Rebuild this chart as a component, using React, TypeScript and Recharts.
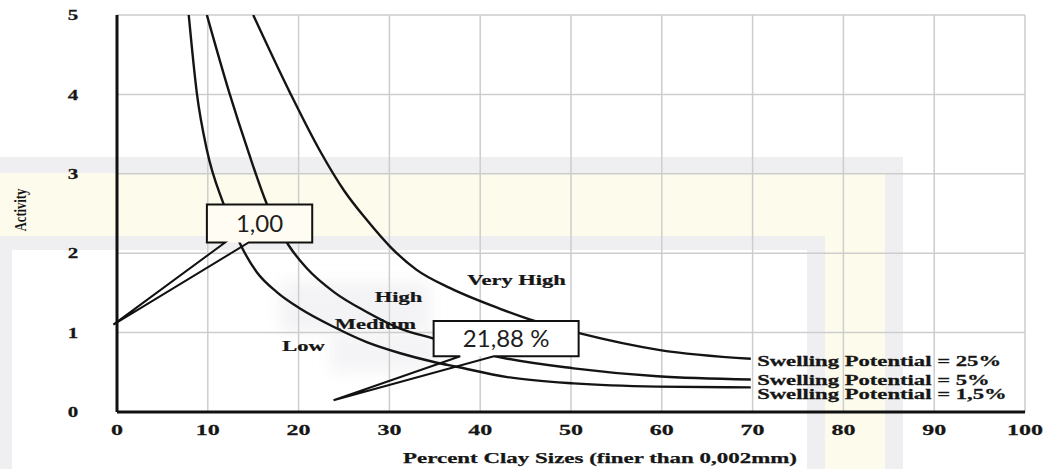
// Activity chart: percent clay fraction vs activity, with the three
// swelling-potential boundary curves and two value callouts.

import { CartesianGrid, ComposedChart, Line, ReferenceArea, ReferenceDot, XAxis, YAxis } from "recharts";

// swelling potential = 1.5 %
const sp15 = [
  { x: 7.9, y: 5.0 }, { x: 8.8, y: 4.01 }, { x: 9.9, y: 3.3 }, { x: 11.7, y: 2.63 },
  { x: 13.9, y: 2.04 }, { x: 15.4, y: 1.76 }, { x: 17.6, y: 1.51 }, { x: 20.2, y: 1.3 },
  { x: 23.9, y: 1.07 }, { x: 27.5, y: 0.88 }, { x: 31.2, y: 0.74 }, { x: 34.9, y: 0.63 },
  { x: 37.4, y: 0.57 }, { x: 43.0, y: 0.44 }, { x: 50.3, y: 0.36 }, { x: 59.5, y: 0.32 },
  { x: 69.8, y: 0.31 },
];

// swelling potential = 5 %
const sp5 = [
  { x: 9.9, y: 5.0 }, { x: 12.4, y: 4.01 }, { x: 14.4, y: 3.3 }, { x: 16.5, y: 2.62 },
  { x: 18.9, y: 2.1 }, { x: 20.9, y: 1.81 }, { x: 23.9, y: 1.51 }, { x: 27.5, y: 1.26 },
  { x: 31.2, y: 1.05 }, { x: 34.7, y: 0.93 }, { x: 42.2, y: 0.69 }, { x: 50.3, y: 0.55 },
  { x: 59.5, y: 0.45 }, { x: 69.8, y: 0.41 },
];

// swelling potential = 25 %
const sp25 = [
  { x: 15.0, y: 5.0 }, { x: 19.1, y: 4.01 }, { x: 22.3, y: 3.3 }, { x: 25.0, y: 2.79 },
  { x: 27.5, y: 2.42 }, { x: 30.1, y: 2.08 }, { x: 33.0, y: 1.79 }, { x: 36.7, y: 1.56 },
  { x: 42.2, y: 1.3 }, { x: 45.9, y: 1.15 }, { x: 51.0, y: 0.99 }, { x: 59.8, y: 0.78 },
  { x: 69.8, y: 0.67 },
];

const xTicks = [0, 10, 20, 30, 40, 50, 60, 70, 80, 90, 100];
const yTicks = [0, 1, 2, 3, 4, 5];

const zoneLabels = [
  { x: 44.0, y: 1.66, text: "Very High" },
  { x: 31.0, y: 1.45, text: "High" },
  { x: 28.45, y: 1.11, text: "Medium" },
  { x: 20.55, y: 0.84, text: "Low" },
];

const curveLabels = [
  { x: 70.5, y: 0.64, text: "Swelling Potential = 25%" },
  { x: 70.5, y: 0.4, text: "Swelling Potential = 5%" },
  { x: 70.5, y: 0.22, text: "Swelling Potential = 1,5%" },
];

// box corners, where the pointer leaves the box bottom, and the pointer tip
const callouts = [
  { text: "1,00", x1: 9.9, x2: 21.5, y1: 2.135, y2: 2.614, base: [11.9, 14.5], tip: [-0.4, 1.1], fill: "#fffdf3" },
  { text: "21,88 %", x1: 34.87, x2: 50.84, y1: 0.702, y2: 1.147, base: [37.8, 41.5], tip: [23.85, 0.148], fill: "#ffffff" },
];

const SERIF = '"Liberation Serif", "Times New Roman", serif';
const INK = "#161616";
const W = 1055;
const H = 469;
const MARGIN = { top: 15, right: 30, bottom: 0, left: 0 };

function StretchText({ x, y, sx = 1.5, anchor = "middle", size = 15, weight = 700, children }: any) {
  return (
    <text transform={`translate(${x},${y}) scale(${sx},1)`} textAnchor={anchor} dy="0.35em"
          fontFamily={SERIF} fontSize={size} fontWeight={weight} fill={INK}
          stroke={INK} strokeWidth={0.25}>
      {children}
    </text>
  );
}

function XTick({ x, payload }: any) {
  return <StretchText x={x} y={430} sx={1.6} size={15}>{payload.value}</StretchText>;
}

function YTick({ y, payload }: any) {
  return <StretchText x={73} y={y} sx={1.4} size={15}>{payload.value}</StretchText>;
}

function calloutShape(c: any) {
  return (p: any) => {
    const { x, y, width, height } = p;
    const kx = width / (c.x2 - c.x1);
    const ky = height / (c.y2 - c.y1);
    const px = (v: number) => x + (v - c.x1) * kx;
    const py = (v: number) => y + (c.y2 - v) * ky;
    const b = y + height;
    const outline = `M${px(c.base[0])},${b} H${x} V${y} H${x + width} V${b} H${px(c.base[1])} L${px(c.tip[0])},${py(c.tip[1])} Z`;
    return (
      <g>
        <rect x={x} y={y} width={width} height={height} fill={c.fill} />
        <path d={outline} fill="none" stroke="#111" strokeWidth={2} strokeLinejoin="miter" />
        <text x={x + width / 2} y={y + height / 2} dy="0.36em" textAnchor="middle"
              fontFamily="Lato, 'Open Sans', sans-serif" fontSize={24} fill="#1e1e1e">
          {c.text}
        </text>
      </g>
    );
  };
}

// faint frame printed behind the figure
const band = (l: number, t: number, w: number, h: number, bg: string) => (
  <div style={{ position: "absolute", left: l, top: t, width: w, height: h, background: bg }} />
);

export default function App() {
  const grey = "#efeff2";
  const yellow = "#fdfbec";
  return (
    <div style={{ position: "absolute", left: 0, top: 0, width: W, height: H, background: "#fff", overflow: "hidden" }}>
      {band(0, 157, 903, 16, grey)}
      {band(885, 157, 18, 312, grey)}
      {band(0, 173, 885, 63, yellow)}
      {band(825, 173, 60, 296, yellow)}
      {band(0, 236, 825, 14, grey)}
      {band(807, 236, 18, 233, grey)}
      {band(0, 250, 12, 219, grey)}
      <div style={{ position: "absolute", left: 280, top: 282, width: 150, height: 50, background: "#f3f3f5", filter: "blur(8px)" }} />
      <div style={{ position: "absolute", left: 330, top: 332, width: 110, height: 40, background: "#f4f4f6", filter: "blur(8px)" }} />

      <div style={{ position: "absolute", left: 0, top: 0 }}>
        <ComposedChart width={W} height={H} margin={MARGIN}>
          <CartesianGrid stroke="#cdcdcd" strokeWidth={1.5} />
          <XAxis dataKey="x" type="number" domain={[0, 100]} ticks={xTicks} allowDataOverflow
                 height={57} tickLine={false} axisLine={{ stroke: "#111", strokeWidth: 3 }} tick={<XTick />}
                 label={{
                   content: ({ viewBox }: any) => (
                     <text x={viewBox.x + 483} y={viewBox.y + 46} dy="0.35em" textAnchor="middle"
                           fontFamily={SERIF} fontSize={15} fontWeight={700} fill={INK}
                           stroke={INK} strokeWidth={0.25}
                           textLength={394} lengthAdjust="spacingAndGlyphs">
                       Percent Clay Sizes (finer than 0,002mm)
                     </text>
                   ),
                 }} />
          <YAxis type="number" domain={[0, 5]} ticks={yTicks} allowDataOverflow width={117}
                 tickLine={false} axisLine={{ stroke: "#111", strokeWidth: 3 }} tick={<YTick />}
                 label={{
                   content: ({ viewBox }: any) => (
                     <text transform={`translate(${viewBox.x + 20},${viewBox.y + 195}) scale(1.4,1) rotate(-90)`}
                           textAnchor="middle" dy="0.35em" fontFamily={SERIF} fontSize={12.5}
                           fontWeight={700} fill={INK}>
                       Activity
                     </text>
                   ),
                 }} />
          <Line data={sp15} dataKey="y" type="monotone" stroke="#141414" strokeWidth={2.4} dot={false} isAnimationActive={false} />
          <Line data={sp5} dataKey="y" type="monotone" stroke="#141414" strokeWidth={2.4} dot={false} isAnimationActive={false} />
          <Line data={sp25} dataKey="y" type="monotone" stroke="#141414" strokeWidth={2.4} dot={false} isAnimationActive={false} />
          {zoneLabels.map((l) => (
            <ReferenceDot key={l.text} x={l.x} y={l.y} ifOverflow="visible"
                          shape={(p: any) => <StretchText x={p.cx} y={p.cy}>{l.text}</StretchText>} />
          ))}
          {curveLabels.map((l) => (
            <ReferenceDot key={l.text} x={l.x} y={l.y} ifOverflow="visible"
                          shape={(p: any) => <StretchText x={p.cx} y={p.cy} anchor="start" size={14} sx={1.62}>{l.text}</StretchText>} />
          ))}
        </ComposedChart>
      </div>

      {/* callouts sit on their own layer, same axes, above the curves */}
      <div style={{ position: "absolute", left: 0, top: 0 }}>
        <ComposedChart width={W} height={H} margin={MARGIN}>
          <XAxis dataKey="x" type="number" domain={[0, 100]} ticks={xTicks} allowDataOverflow
                 height={57} tick={false} tickLine={false} axisLine={false} />
          <YAxis type="number" domain={[0, 5]} ticks={yTicks} allowDataOverflow width={117}
                 tick={false} tickLine={false} axisLine={false} />
          {callouts.map((c) => (
            <ReferenceArea key={c.text} x1={c.x1} x2={c.x2} y1={c.y1} y2={c.y2} ifOverflow="visible"
                           shape={calloutShape(c)} />
          ))}
        </ComposedChart>
      </div>
    </div>
  );
}
